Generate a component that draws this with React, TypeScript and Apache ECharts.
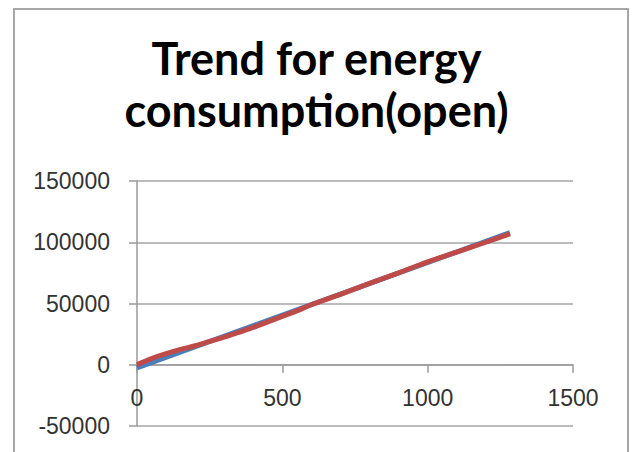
import React, { useEffect, useRef } from "react";
import * as echarts from "echarts";

const titleText = "Trend for energy\nconsumption(open)";
const xTicks = [0, 500, 1000, 1500];
const yTicks = [-50000, 0, 50000, 100000, 150000];
const dataX = [0, 50, 100, 150, 200, 250, 300, 350, 400, 450, 500, 550, 600, 700, 800, 900, 1000, 1100, 1200, 1283];
const dataY = [0, 5000, 9000, 12500, 15500, 19000, 22500, 26500, 30500, 35000, 39500, 44000, 49000, 57500, 66500, 75000, 84000, 92000, 100000, 106800];
const trendX = [0, 1283];
const trendY = [-2500, 107800];

export default function App() {
  const ref = useRef<HTMLDivElement>(null);
  useEffect(() => {
    if (!ref.current) return;
    const chart = echarts.init(ref.current, null, { renderer: "svg" });
    const labelStyle = { color: "#333", fontSize: 23, fontFamily: "Liberation Sans, Arial, sans-serif" };
    const gridTop = 181;
    const gridBottom = 26;
    const gridH = 452 - gridTop - gridBottom;
    const yMin = yTicks[0];
    const yMax = yTicks[yTicks.length - 1];
    const zeroOffset = -(gridH * (0 - yMin)) / (yMax - yMin);
    chart.setOption({
      animation: false,
      backgroundColor: "#fff",
      title: {
        text: titleText,
        left: "center",
        top: 27,
        textStyle: {
          fontFamily: "Lato, sans-serif",
          fontWeight: "bold",
          fontSize: 45,
          lineHeight: 52,
          color: "#000",
        },
      },
      graphic: [
        {
          type: "rect",
          shape: { x: 14, y: 9, width: 614, height: 460 },
          style: { fill: "none", stroke: "#A6A6A6", lineWidth: 2 },
          silent: true,
        },
      ],
      grid: { left: 137, right: 60, top: gridTop, bottom: gridBottom, containLabel: false, outerBoundsMode: "none" },
      xAxis: {
        type: "value",
        min: xTicks[0],
        max: xTicks[xTicks.length - 1],
        interval: 500,
        position: "bottom",
        offset: zeroOffset,
        axisLine: { show: true, onZero: false, lineStyle: { color: "#9A9A9A", width: 1.5 } },
        axisTick: { show: true, inside: false, length: 8, lineStyle: { color: "#9A9A9A", width: 1.5 } },
        axisLabel: { ...labelStyle, margin: 22, formatter: (v: number) => String(v) },
        splitLine: { show: false },
      },
      yAxis: {
        type: "value",
        min: yMin,
        max: yMax,
        interval: 50000,
        axisLine: { show: true, onZero: false, lineStyle: { color: "#9A9A9A", width: 1.5 } },
        axisTick: { show: true, length: 8, lineStyle: { color: "#9A9A9A", width: 1.5 } },
        axisLabel: { ...labelStyle, margin: 27, formatter: (v: number) => String(v) },
        splitLine: { show: true, lineStyle: { color: "#A6A6A6", width: 1.5 } },
      },
      series: [
        {
          type: "line",
          data: trendX.map((x, i) => [x, trendY[i]]),
          showSymbol: false,
          symbol: "none",
          lineStyle: { color: "#4A7EBB", width: 5 },
          z: 2,
        },
        {
          type: "line",
          data: dataX.map((x, i) => [x, dataY[i]]),
          showSymbol: false,
          symbol: "none",
          smooth: 0.3,
          lineStyle: { color: "#BE4B48", width: 5 },
          z: 3,
        },
      ],
    });
    return () => chart.dispose();
  }, []);
  return (
    <div
      ref={ref}
      style={{ position: "absolute", left: 0, top: 0, width: 633, height: 452 }}
    />
  );
}
